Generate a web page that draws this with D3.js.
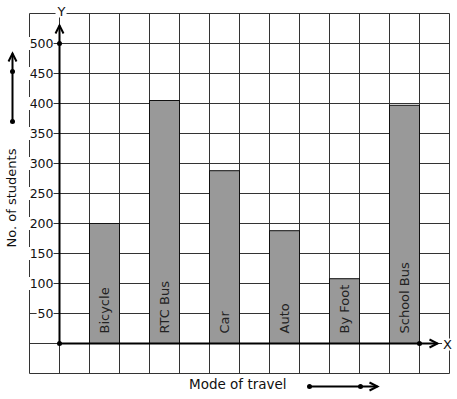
<!DOCTYPE html>
<html>
<head>
<meta charset="utf-8">
<script src="https://cdn.jsdelivr.net/npm/d3@7"></script>
<style>
  body { margin: 0; background: #fff; }
  text { font-family: "DejaVu Sans", sans-serif; fill: #111; }
  .grid line { stroke: #333; stroke-width: 1; }
  .axis { stroke: #000; stroke-width: 2; fill: none; }
  .bar { fill: #999; stroke: #111; stroke-width: 1; }
</style>
</head>
<body>
<script>
var modes = ["Bicycle", "RTC Bus", "Car", "Auto", "By Foot", "School Bus"];
var students = [200, 405, 288, 188, 108, 397];
var yTicks = [50, 100, 150, 200, 250, 300, 350, 400, 450, 500];

var width = 457, height = 399;

// one grid square = 1 x-unit = 50 students
var x = d3.scaleLinear().domain([-1, 13]).range([29, 449]);
var y = d3.scaleLinear().domain([-50, 550]).range([373, 13]);

var svg = d3.select("body").append("svg")
    .attr("width", width)
    .attr("height", height);

var g = svg.append("g").attr("transform", "translate(0.5,0.5)");

// grid
var grid = g.append("g").attr("class", "grid");
grid.selectAll(".v")
    .data(d3.range(-1, 14))
    .enter().append("line")
    .attr("x1", d => x(d)).attr("x2", d => x(d))
    .attr("y1", y(550)).attr("y2", y(-50));
grid.selectAll(".h")
    .data(d3.range(-50, 551, 50))
    .enter().append("line")
    .attr("x1", x(-1)).attr("x2", x(13))
    .attr("y1", d => y(d)).attr("y2", d => y(d));

// bars
g.selectAll(".bar")
    .data(modes)
    .enter().append("rect")
    .attr("class", "bar")
    .attr("x", (d, i) => x(2 * i + 1))
    .attr("width", x(1) - x(0))
    .attr("y", (d, i) => y(students[i]))
    .attr("height", (d, i) => y(0) - y(students[i]));

g.selectAll(".blabel")
    .data(modes)
    .enter().append("text")
    .attr("transform", (d, i) => "translate(" + (x(2 * i + 1.5) + 4.5) + "," + (y(0) - 10) + ") rotate(-90)")
    .style("font-size", "13px")
    .style("fill", "#222")
    .text(d => d);

// y tick labels with white boxes over the grid
var ticks = g.append("g");
var tk = ticks.selectAll("g")
    .data(yTicks)
    .enter().append("g")
    .attr("transform", d => "translate(" + (x(0) - 6) + "," + y(d) + ")");
tk.append("text")
    .attr("text-anchor", "end")
    .attr("dy", "0.36em")
    .style("font-size", "12.5px")
    .text(d => d)
    .each(function() {
      var b = this.getBBox();
      d3.select(this.parentNode).insert("rect", "text")
        .attr("x", b.x - 1).attr("y", b.y + 1)
        .attr("width", b.width + 1).attr("height", b.height - 2)
        .attr("fill", "#fff");
    });

// axes
function chevronUp(px, py) {
  return "M" + (px - 4) + "," + (py + 8) + "L" + px + "," + py + "L" + (px + 4) + "," + (py + 8);
}
function chevronRight(px, py) {
  return "M" + (px - 8) + "," + (py - 4) + "L" + px + "," + py + "L" + (px - 8) + "," + (py + 4);
}

g.append("line").attr("class", "axis")
    .attr("x1", x(0)).attr("x2", x(0))
    .attr("y1", y(0)).attr("y2", y(530));
g.append("path").attr("class", "axis").attr("d", chevronUp(x(0), y(530)));
g.append("line").attr("class", "axis")
    .attr("x1", x(0)).attr("x2", x(12.6))
    .attr("y1", y(0)).attr("y2", y(0));
g.append("path").attr("class", "axis").attr("d", chevronRight(x(12.6), y(0)));

[[x(0), y(0)], [x(0), y(500)], [x(12), y(0)]].forEach(function(p) {
  g.append("circle").attr("cx", p[0]).attr("cy", p[1]).attr("r", 2.5).attr("fill", "#000");
});

// axis letters
function boxedLabel(tx, ty, s) {
  var t = g.append("text").attr("x", tx).attr("y", ty)
      .attr("text-anchor", "middle").style("font-size", "13px").text(s);
  var b = t.node().getBBox();
  g.insert("rect", function() { return t.node(); })
      .attr("x", b.x - 1).attr("y", b.y + 2).attr("width", b.width + 2).attr("height", b.height - 3)
      .attr("fill", "#fff");
}
boxedLabel(x(0) + 2, 15, "Y");
boxedLabel(447, y(0) + 5, "X");

// titles
svg.append("text")
    .attr("transform", "translate(16,198) rotate(-90)")
    .attr("text-anchor", "middle")
    .style("font-size", "13px")
    .text("No. of students");
svg.append("text")
    .attr("x", 189).attr("y", 389)
    .style("font-size", "13.5px")
    .text("Mode of travel");

// side arrows
var side = svg.append("g").attr("transform", "translate(0.5,0.5)");
side.append("line").attr("class", "axis").attr("x1", 12).attr("x2", 12).attr("y1", 121).attr("y2", 53);
side.append("path").attr("class", "axis").attr("d", chevronUp(12, 53));
side.append("line").attr("class", "axis").attr("x1", 309).attr("x2", 377).attr("y1", 386).attr("y2", 386);
side.append("path").attr("class", "axis").attr("d", chevronRight(377, 386));
[[12, 71], [12, 121], [309, 386], [360, 386]].forEach(function(p) {
  side.append("circle").attr("cx", p[0]).attr("cy", p[1]).attr("r", 2.5).attr("fill", "#000");
});
</script>
</body>
</html>
